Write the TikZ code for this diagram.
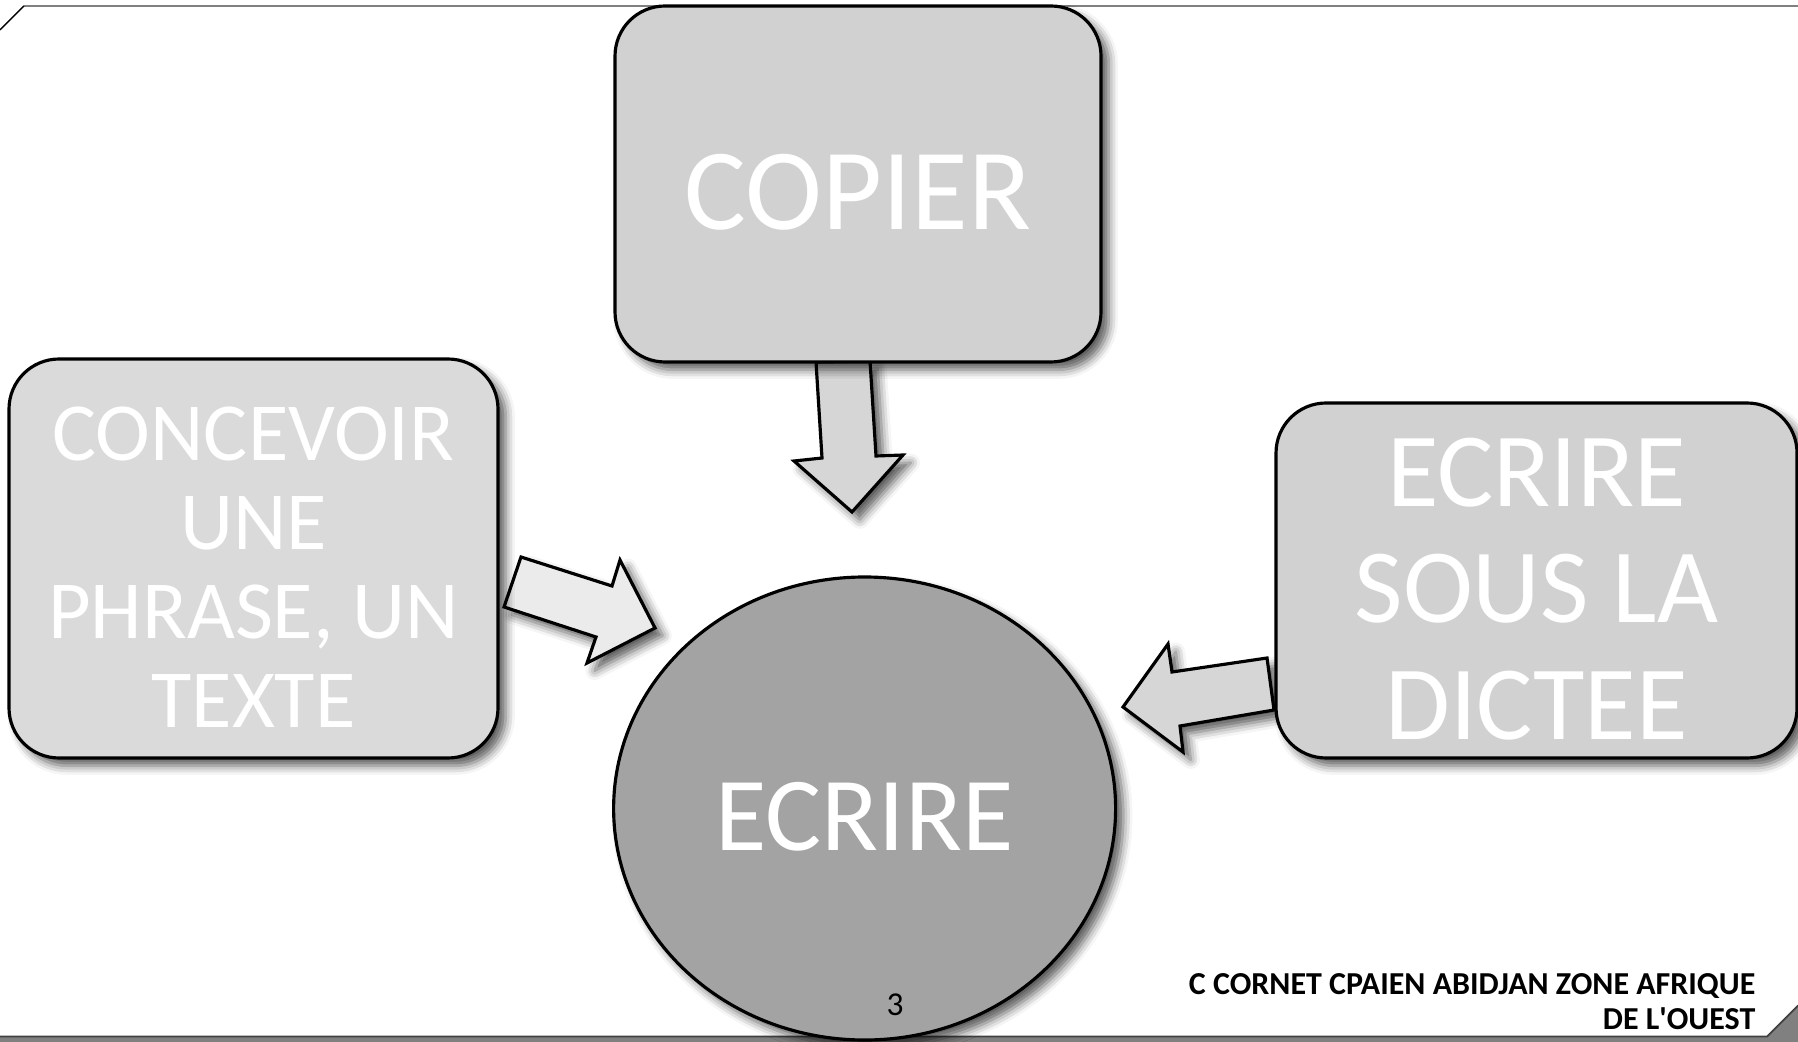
\documentclass[tikz,border=0pt]{standalone}
\usepackage{fontspec}
\setmainfont{Carlito}
\usetikzlibrary{shapes.geometric,shadows.blur}

\definecolor{boxgray}{HTML}{D1D1D1}
\definecolor{boxlight}{HTML}{DADADA}
\definecolor{ringgray}{HTML}{A3A3A3}
\definecolor{arrowlight}{HTML}{EBEBEB}
\definecolor{arrowgray}{HTML}{D6D6D6}
\definecolor{framegray}{HTML}{808080}

\tikzset{
    darkshadow/.style={blur shadow={shadow xshift=2.2pt, shadow yshift=-2.2pt,
        shadow blur radius=2.6pt, shadow opacity=65}},
    idea/.style={draw=black, line width=0.9pt, rounded corners=5mm, darkshadow,
        text=white, align=center, inner sep=0pt, text depth=0pt},
    core/.style={draw=black, line width=0.9pt, ellipse, darkshadow,
        fill=ringgray, text=white, inner sep=0pt, text depth=0pt},
    blockarrow/.style={draw=black, line width=0.9pt, line join=miter, darkshadow},
}

\begin{document}
\begin{tikzpicture}[x=0.1mm, y=-0.1mm]
        \useasboundingbox (0,0) rectangle (1798,1042);
        % slide frame
        \fill[framegray] (0,1037) -- (1767,1037) -- (1798,1006) -- (1798,1042) -- (0,1042) -- cycle;
        \draw[black!75, line width=0.5pt] (0,1036.5) -- (1767,1036.5) -- (1798,1005.5);
        \draw[framegray, line width=0.6pt] (24,6) -- (1798,6);
        \draw[black, line width=0.4pt] (0,30) -- (24,6);

        % block arrows
        \filldraw[blockarrow, fill=arrowgray] (816,362) -- (870,361) -- (876,456) -- (903,455)
            -- (852,512) -- (794,461) -- (822,458) -- cycle;
        \filldraw[blockarrow, fill=arrowlight] (521,557) -- (612,586) -- (620,560) -- (655,628)
            -- (587,663) -- (596,637) -- (504,607) -- cycle;
        \filldraw[blockarrow, fill=arrowgray] (1267,658) -- (1274,710) -- (1180,726) -- (1183,752)
            -- (1123,707) -- (1168,644) -- (1172,672) -- cycle;

        \node[idea, fill=boxgray, minimum width=48.6mm, minimum height=35.6mm, text height=26pt,
            font=\fontsize{33}{36}\selectfont] (copier) at (858,184) {COPIER};
        \node[idea, fill=boxlight, minimum width=48.9mm, minimum height=39.9mm, text height=95.9pt,
            font=\fontsize{23.5}{25.3}\selectfont] (concevoir) at (253.5,558.5)
            {CONCEVOIR\\UNE\\PHRASE, UN\\TEXTE};
        \node[idea, fill=boxgray, minimum width=52.1mm, minimum height=35.5mm, text height=90.3pt,
            font=\fontsize{30}{33.1}\selectfont] (dictee) at (1536.5,580.5)
            {ECRIRE\\SOUS LA\\DICTEE};
        \node[core, minimum width=50.2mm, minimum height=46.3mm, text height=24pt,
            font=\fontsize{29.9}{32}\selectfont] (ecrire) at (864.6,808.5) {ECRIRE};

        \node[font=\fontsize{9.5}{11}\selectfont, inner sep=0pt] (page) at (895,1005) {3};
        \node[font=\bfseries\fontsize{9.1}{10}\selectfont, align=right, anchor=north east,
            inner sep=0pt] (credit) at (1756,973)
            {C CORNET CPAIEN ABIDJAN ZONE AFRIQUE\\DE L\textquotesingle OUEST};
    \end{tikzpicture}
\end{document}
